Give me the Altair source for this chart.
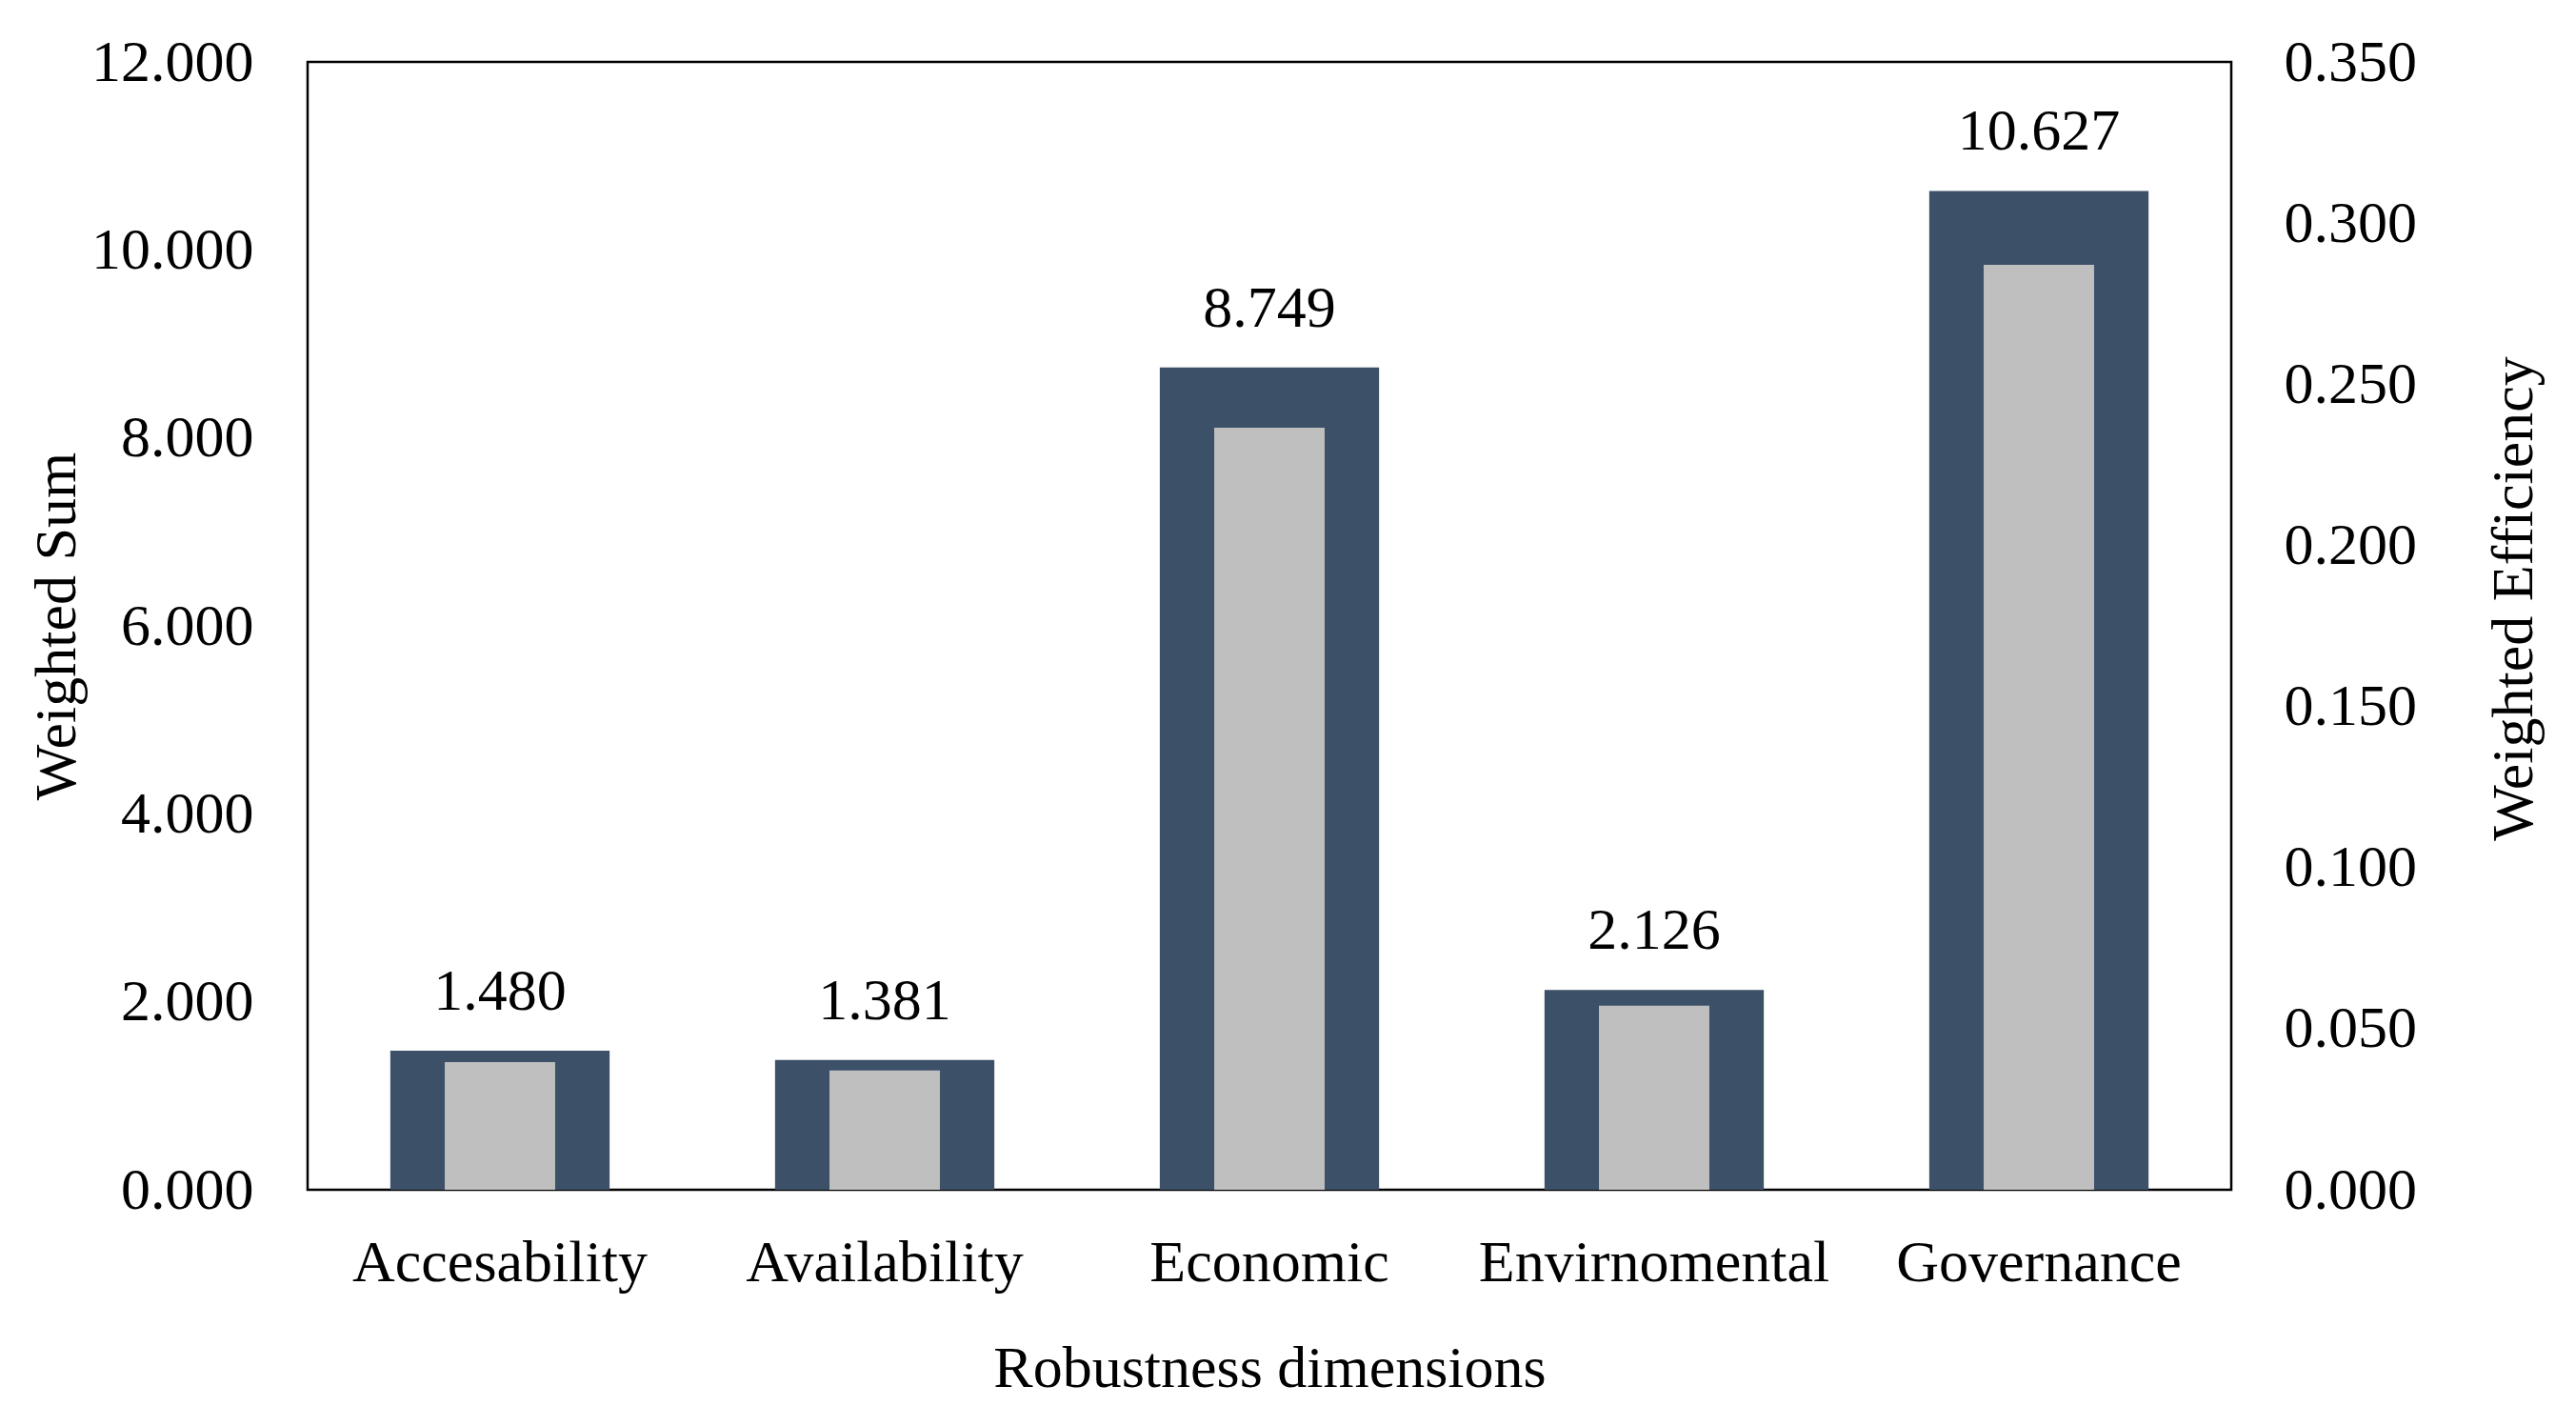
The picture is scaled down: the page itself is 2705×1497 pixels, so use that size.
import altair as alt
import pandas as pd

categories = ["Accesability", "Availability", "Economic", "Envirnomental", "Governance"]
weighted_sum = [1.480, 1.381, 8.749, 2.126, 10.627]
weighted_eff = [0.0396, 0.0370, 0.2365, 0.0571, 0.2870]

sum_ticks = [0, 2, 4, 6, 8, 10, 12]
eff_ticks = [0, 0.05, 0.10, 0.15, 0.20, 0.25, 0.30, 0.35]

df = pd.DataFrame({"cat": categories, "sum": weighted_sum, "eff": weighted_eff})

FONT = "Liberation Serif"
FS = 62
DARK = "#3C5068"
GRAY = "#BFBFBF"
W, H = 2020, 1184

xenc = alt.X(
    "cat:N",
    sort=categories,
    scale=alt.Scale(paddingInner=0, paddingOuter=0),
    axis=alt.Axis(
        title="Robustness dimensions",
        labelAngle=0,
        labelFont=FONT,
        labelFontSize=FS,
        labelColor="black",
        labelPadding=46,
        labelLimit=0,
        ticks=False,
        tickSize=0,
        domain=False,
        titleFont=FONT,
        titleFontSize=FS,
        titleFontWeight="normal",
        titleColor="black",
        titleBaseline="alphabetic",
        titleY=206,
        titleLimit=0,
    ),
)

dark = alt.Chart(df).mark_bar(color=DARK, width=alt.RelativeBandSize(0.57)).encode(
    x=xenc,
    y=alt.Y(
        "sum:Q",
        scale=alt.Scale(domain=[0, 12], nice=False, zero=True),
        axis=alt.Axis(
            title="Weighted Sum",
            values=sum_ticks,
            format=".3f",
            orient="left",
            grid=False,
            ticks=False,
            tickSize=0,
            domain=False,
            labelFont=FONT,
            labelFontSize=FS,
            labelColor="black",
            labelPadding=57,
            labelLimit=0,
            titleFont=FONT,
            titleFontSize=FS,
            titleFontWeight="normal",
            titleColor="black",
            titleAngle=270,
            titleBaseline="alphabetic",
            titleAlign="center",
            titleX=-245,
            titleY=H / 2,
            titleLimit=0,
        ),
    ),
)

gray = alt.Chart(df).mark_bar(color=GRAY, width=alt.RelativeBandSize(0.287)).encode(
    x=xenc,
    y=alt.Y(
        "eff:Q",
        scale=alt.Scale(domain=[0, 0.35], nice=False, zero=True),
        axis=alt.Axis(
            title="Weighted Efficiency",
            values=eff_ticks,
            format=".3f",
            orient="right",
            grid=False,
            ticks=False,
            tickSize=0,
            domain=False,
            labelFont=FONT,
            labelFontSize=FS,
            labelColor="black",
            labelPadding=55,
            labelLimit=0,
            titleFont=FONT,
            titleFontSize=FS,
            titleFontWeight="normal",
            titleColor="black",
            titleAngle=270,
            titleBaseline="alphabetic",
            titleAlign="center",
            titleX=315,
            titleY=563,
            titleLimit=0,
        ),
    ),
)

labels = alt.Chart(df).mark_text(
    font=FONT, fontSize=FS, color="black", baseline="alphabetic", align="center", dy=-43
).encode(
    x=xenc,
    y=alt.Y("sum:Q", scale=alt.Scale(domain=[0, 12], nice=False, zero=True), axis=None),
    text=alt.Text("sum:Q", format=".3f"),
)

chart = (
    alt.layer(dark, gray, labels)
    .resolve_scale(y="independent")
    .properties(
        width=W,
        height=H,
        autosize=alt.AutoSizeParams(type="none"),
        padding={"left": 315, "top": 57, "right": 354, "bottom": 240},
    )
    .configure(background="white")
    .configure_view(stroke="black", strokeWidth=2.5)
)

chart.save("out.html", embed_options={"renderer": "svg", "actions": False})
